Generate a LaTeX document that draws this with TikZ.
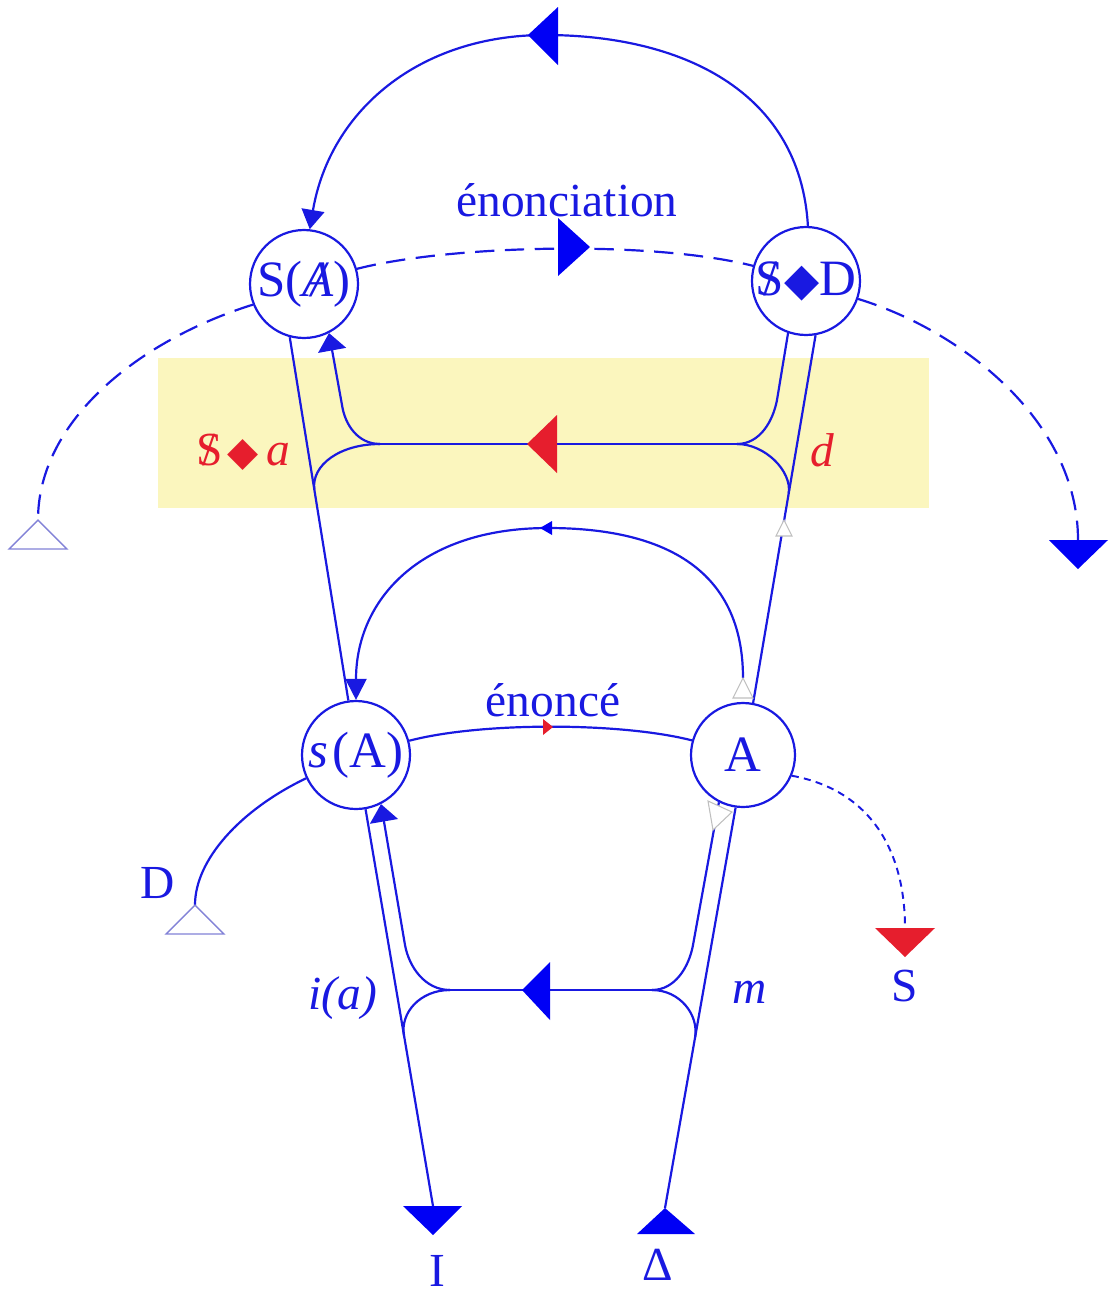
\documentclass[tikz,border=0pt]{standalone}
\usepackage{fontspec}
\setmainfont{Liberation Serif}
\newfontfamily\dejavu{DejaVu Sans}
\usetikzlibrary{arrows.meta,calc}
\definecolor{lblue}{RGB}{25,25,225}
\definecolor{fblue}{RGB}{0,0,245}
\definecolor{lred}{RGB}{230,30,45}
\definecolor{pyellow}{RGB}{251,246,190}
\definecolor{tgray}{RGB}{130,130,215}
\newcommand\barred[1]{\ooalign{#1\cr\hidewidth/\hidewidth\cr}}
\begin{document}
\begin{tikzpicture}[x=0.02cm,y=-0.02cm,
  ln/.style={draw=lblue, line width=1.25pt},
  dashln/.style={ln, dash pattern=on 11pt off 6pt},
  fineln/.style={ln, line width=1.1pt, dash pattern=on 4pt off 3pt},
  circ/.style={circle, draw=lblue, line width=1.25pt, fill=white, minimum size=2.16cm, inner sep=0pt, text=lblue, font=\fontsize{29}{32}\selectfont},
  lbl/.style={text=lblue, font=\fontsize{27}{30}\selectfont, inner sep=0pt},
  rlbl/.style={lbl, text=lred},
  bigend/.style={-{Triangle[length=11pt,width=13pt]}},
  wideend/.style={-{Triangle[length=10pt,width=16pt]}},
  opentri/.style={draw=tgray, line width=0.8pt, fill=white},
  smalltri/.style={draw=gray!50, line width=0.6pt, fill=white}
]
\useasboundingbox (0,0) rectangle (1112,1296);
% yellow band
\fill[pyellow] (158,358) rectangle (929,508);

% main nodes
\node[circ] (SA) at (304,284) {S(\textit{\barred{A}})};
\node[circ] (SD) at (806,281) {\barred{S}{\fontsize{26}{26}\dejavu ◆}D};
\node[circ] (sA) at (356,755) {\textit{s}\kern2pt(A)};
\node[circ, minimum size=2.08cm] (A) at (743,755) {A};

% terminal coordinates
\coordinate (Ltri) at (38,520);
\coordinate (Rtri) at (1078,540);
\coordinate (Dtri) at (195,905);
\coordinate (Stri) at (905,928);
\coordinate (Itop) at (433,1206);
\coordinate (Dtop) at (665,1208);
\coordinate (Atop) at (743,678);
\coordinate (UL) at (380,444);
\coordinate (UR) at (737,444);
\coordinate (LL) at (450,990);
\coordinate (LR) at (652,990);

% top arc
\draw[ln, bigend] (SD.88) .. controls (800,90) and (680,35) .. (545,35)
   .. controls (420,35) and (330,110) .. (SA.84);

% dashed enonciation line
\draw[dashln] (SA.202) .. controls (140,340) and (38,420) .. (Ltri);
\draw[dashln] (SA.16) .. controls (450,245) and (650,240) .. (SD.164);
\draw[dashln] (SD.341) .. controls (960,330) and (1078,420) .. (Rtri);

% upper straight lines
\draw[ln] (SA.255) -- (sA.98);
\draw[ln] (A.79) -- (SD.280);
\coordinate (L1) at ($(SA.255)!0.42!(sA.98)$);
\coordinate (R1) at ($(SD.280)!0.43!(A.79)$);

% upper fork
\draw[ln] (UL) -- (UR);
\draw[ln, wideend] (UL) .. controls (358,444) and (345,425) .. (342,405) -- (SA.297);
\draw[ln] (UL) .. controls (340,444) and (311,465) .. (L1);
\draw[ln] (UR) .. controls (760,444) and (773,421) .. (777,400) -- (SD.251);
\draw[ln] (UR) .. controls (765,444) and (792,471) .. (R1);

% middle arc
\draw[ln, -{Triangle[length=12pt,width=12pt]}] (Atop) .. controls (743,560) and (650,528) .. (548,528)
   .. controls (420,528) and (356,600) .. (sA.90);

% enonce
\draw[ln] (sA.15) .. controls (480,722) and (620,722) .. (A.164);

% lower straight lines
\draw[ln] (sA.280) -- (Itop);
\draw[ln] (A.262) -- (Dtop);
\coordinate (LL1) at ($(sA.280)!0.57!(Itop)$);
\coordinate (RL1) at ($(A.262)!0.574!(Dtop)$);

% lower fork
\draw[ln] (LL) -- (LR);
\draw[ln, wideend] (LL) .. controls (425,990) and (409,967) .. (405,945) -- (sA.297);
\draw[ln] (LL) .. controls (420,990) and (400,1013) .. (LL1);
\draw[ln] (LR) .. controls (675,990) and (689,967) .. (693,945) -- (A.243);
\draw[ln] (LR) .. controls (680,990) and (699,1015) .. (RL1);

% D and S branches
\draw[ln] (sA.205) .. controls (240,810) and (195,860) .. (Dtri);
\draw[fineln] (A.337) .. controls (870,790) and (905,850) .. (Stri);

% mid-path arrowheads
\fill[fblue] (528,35) -- (558,7) -- (558,65) -- cycle;
\fill[fblue] (590,247) -- (558,218) -- (558,276) -- cycle;
\fill[lred] (527,444) -- (557,415) -- (557,473) -- cycle;
\fill[fblue] (522,990) -- (550,962) -- (550,1020) -- cycle;
\fill[lred] (553,727) -- (543,719) -- (543,735) -- cycle;
\fill[fblue] (540,528) -- (552,521) -- (552,535) -- cycle;

% small marker triangles
\draw[smalltri] (784,520) -- (776,536) -- (792,536) -- cycle;
\draw[smalltri] (Atop) -- (733,698) -- (753,698) -- cycle;
\draw[smalltri] (713,830) -- (708,801) -- (732,812) -- cycle;

% terminal triangles
\draw[opentri] (Ltri) -- (9,549) -- (67,549) -- cycle;
\fill[fblue] (1049,540) -- (1108,540) -- (1078,569) -- cycle;
\draw[opentri] (Dtri) -- (166,934) -- (224,934) -- cycle;
\fill[lred] (875,928) -- (935,928) -- (905,957) -- cycle;
\fill[fblue] (403,1206) -- (462,1206) -- (433,1235) -- cycle;
\fill[fblue] (Dtop) -- (637,1234) -- (695,1234) -- cycle;

% labels
\node[lbl] (t1) at (567,200) {énonciation};
\node[lbl] (t2) at (553,700) {énoncé};
\node[rlbl] (t3) at (243,452) {\barred{S}\hspace{3pt}{\fontsize{23}{23}\dejavu ◆}\hspace{4pt}\textit{a}};
\node[rlbl] (t4) at (822,450) {\textit{d}};
\node[lbl] (t5) at (343,998) {\textit{i(a)}};
\node[lbl] (t6) at (750,992) {\textit{m}};
\node[lbl] (t7) at (158,883) {D};
\node[lbl] (t8) at (905,986) {S};
\node[lbl] (t9) at (437,1271) {I};
\node[lbl] (t10) at (658,1265) {Δ};
\end{tikzpicture}
\end{document}
